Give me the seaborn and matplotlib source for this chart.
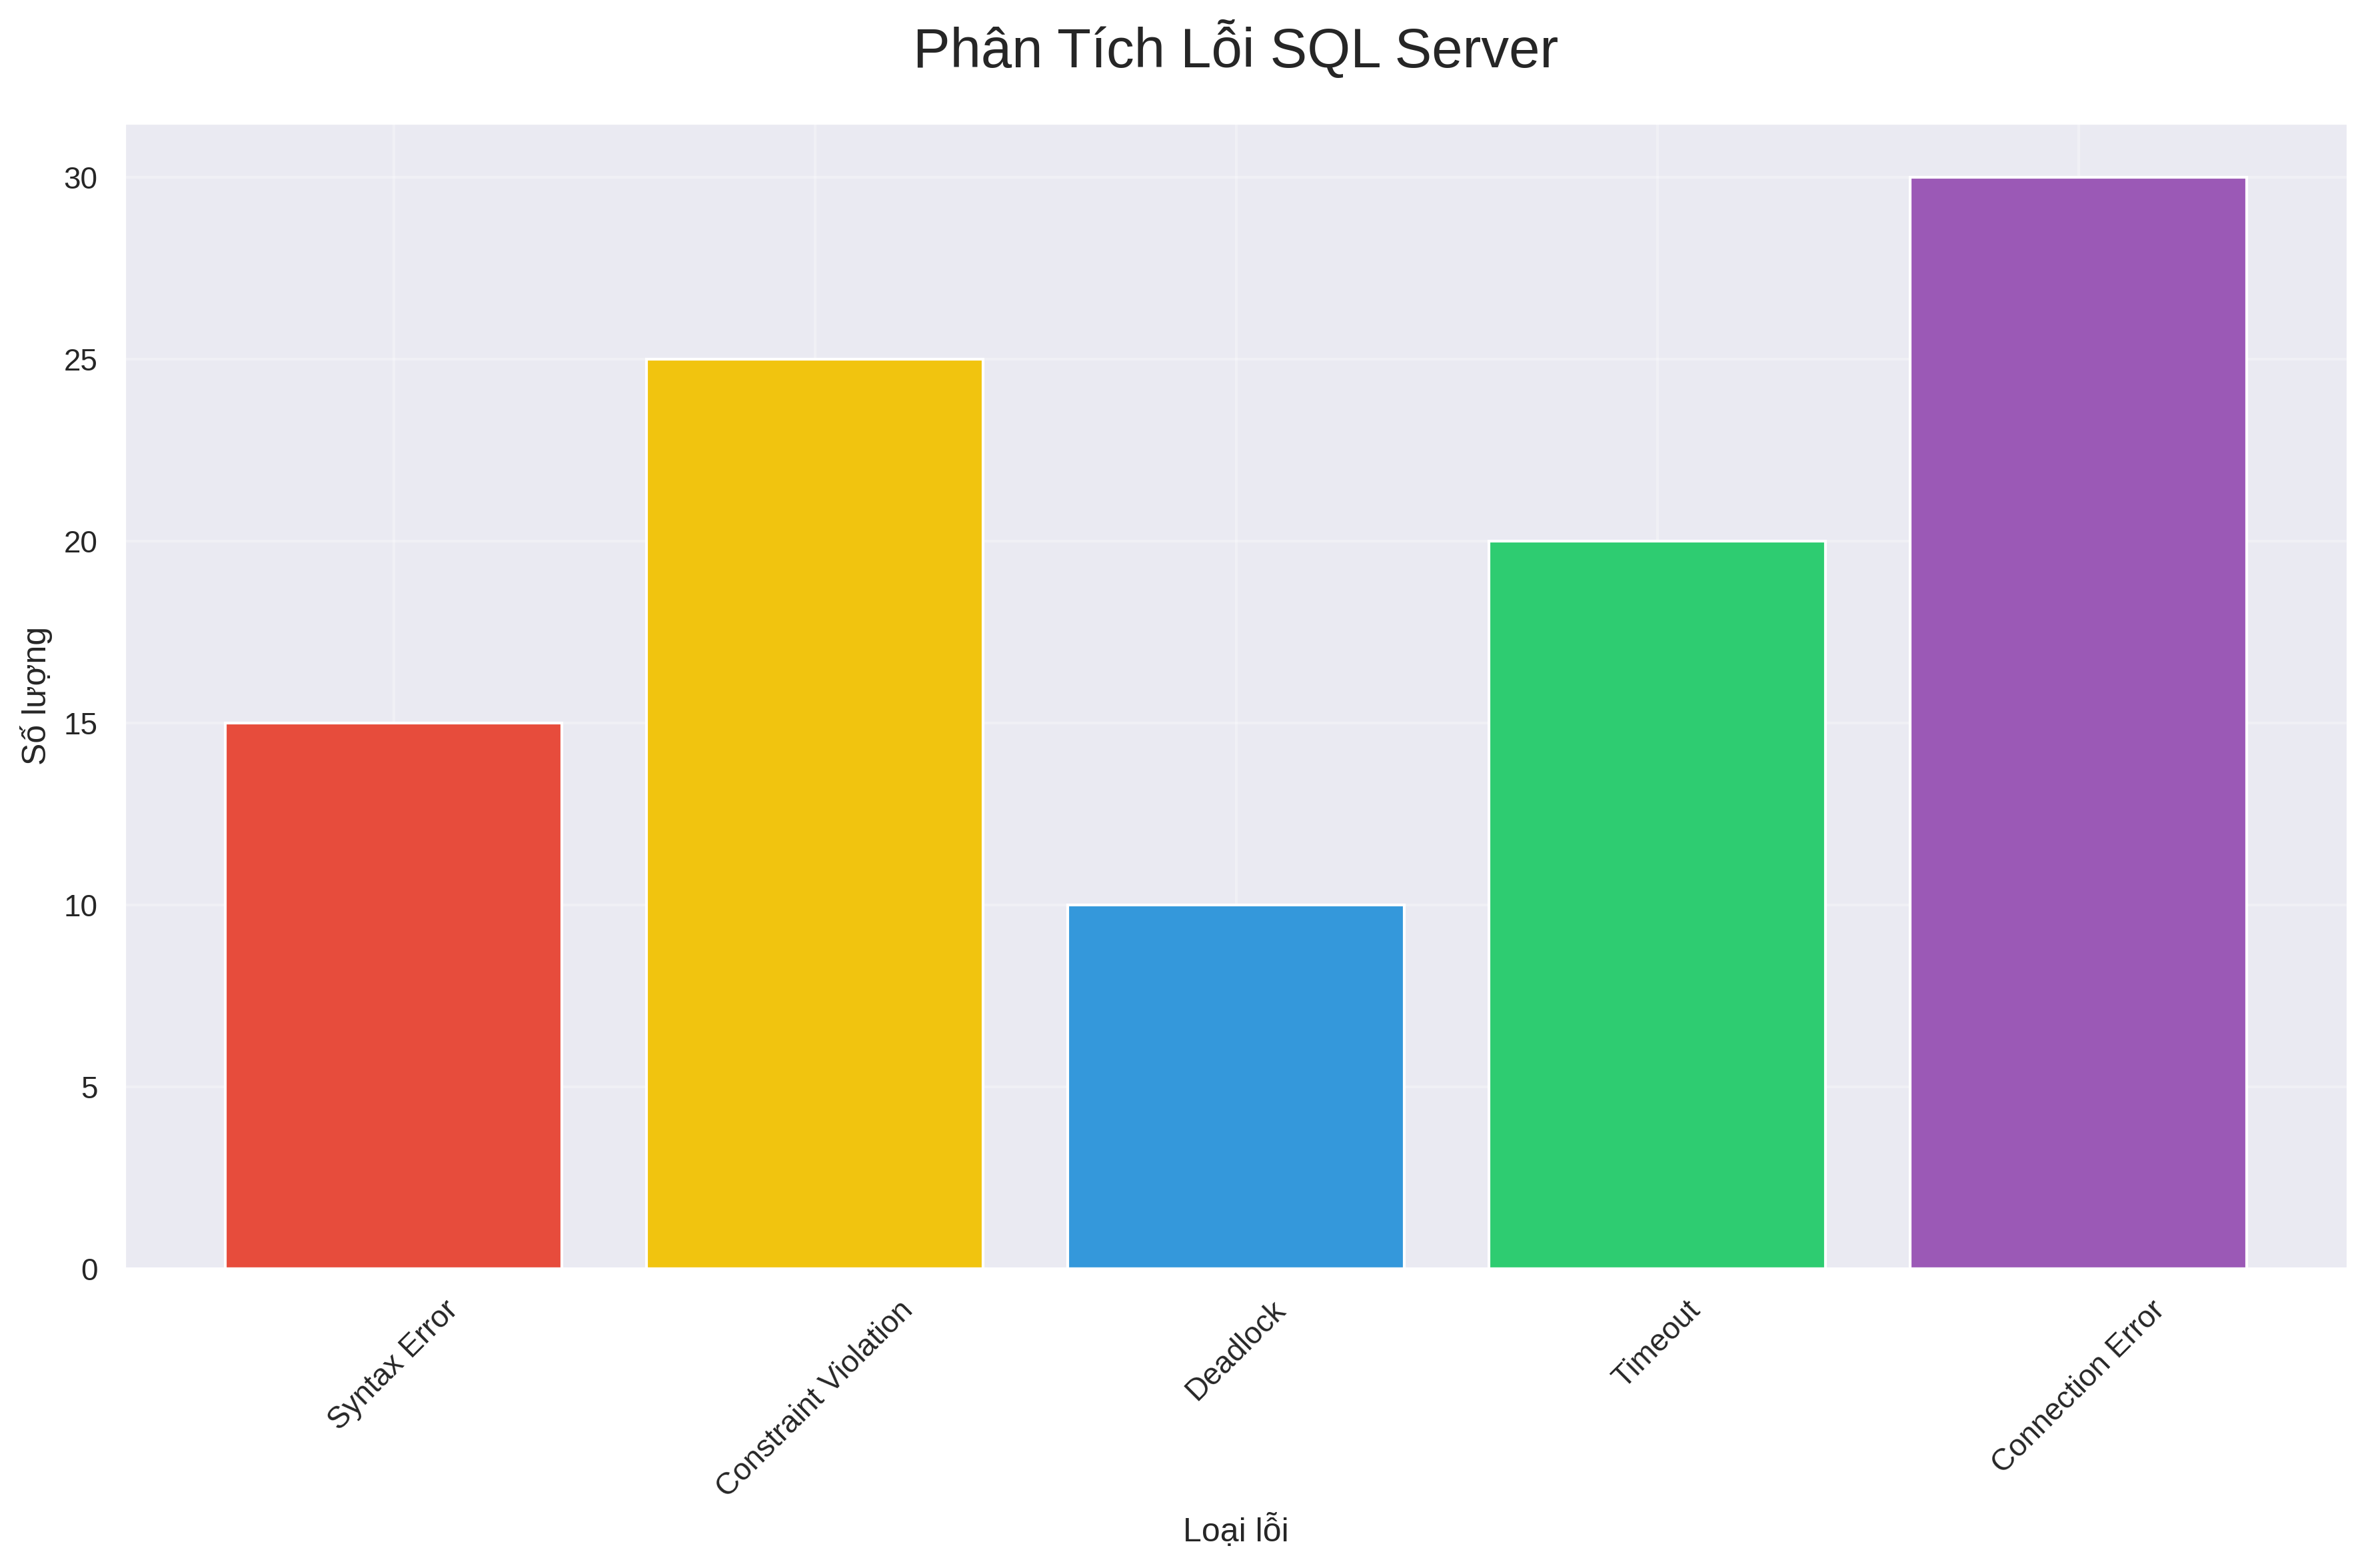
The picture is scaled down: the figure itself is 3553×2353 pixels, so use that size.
import pandas as pd
import seaborn as sns
import matplotlib.pyplot as plt

# Dữ liệu lỗi SQL Server
error_types = ['Syntax Error', 'Constraint Violation', 'Deadlock', 'Timeout', 'Connection Error']
error_counts = [15, 25, 10, 20, 30]
bar_colors = ['#e74c3c', '#f1c40f', '#3498db', '#2ecc71', '#9b59b6']

sns.set_theme(style='darkgrid')
plt.rcParams['font.family'] = ['Liberation Sans', 'DejaVu Sans']

df = pd.DataFrame({'type': error_types, 'count': error_counts})

fig, ax = plt.subplots(figsize=(12, 8))
sns.barplot(data=df, x='type', y='count', hue='type', palette=bar_colors,
            dodge=False, legend=False, width=0.8, saturation=1,
            edgecolor='white', linewidth=1, ax=ax)

# lề trục x giống plt.bar mặc định (margin 5%)
n = len(error_types)
span = (n - 1) + 0.8
ax.set_xlim(-0.4 - 0.05 * span, n - 1 + 0.4 + 0.05 * span)

ax.set_title('Phân Tích Lỗi SQL Server', fontsize=20, pad=20)
ax.set_xlabel('Loại lỗi', fontsize=12)
ax.set_ylabel('Số lượng', fontsize=12)
ax.tick_params(axis='x', rotation=45)
ax.grid(True, alpha=0.3)
ax.set_axisbelow(True)

plt.tight_layout()
plt.savefig('out.png', dpi=300, bbox_inches='tight')
plt.close()
